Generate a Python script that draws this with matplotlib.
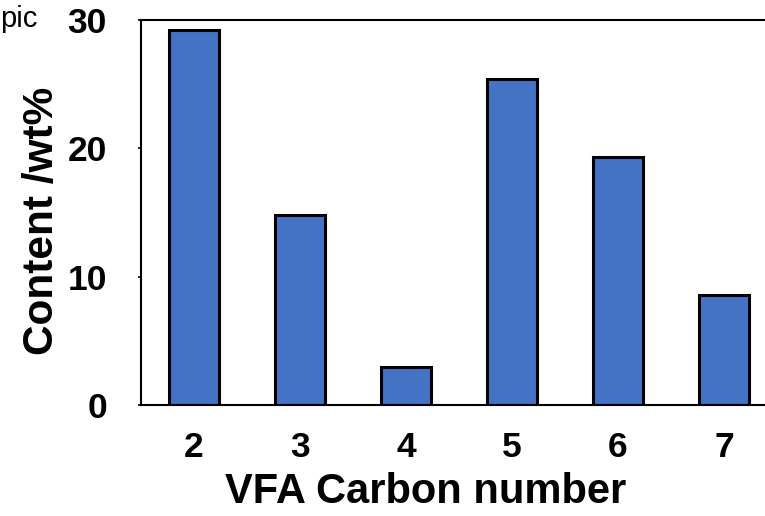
import matplotlib.pyplot as plt

carbon = ['2', '3', '4', '5', '6', '7']
positions = [2, 3, 4, 5, 6, 7]
content = [29.2, 14.8, 2.95, 25.4, 19.3, 8.55]

plt.rcParams['font.family'] = ['Liberation Sans', 'DejaVu Sans']

fig = plt.figure(figsize=(7.65, 5.16), dpi=100)
# axes runs past the right edge of the figure like the reference
ax = fig.add_axes([141 / 765, (516 - 405) / 516, 636 / 765, 385 / 516])

ax.bar(positions, content, width=0.48, color='#4472C4', edgecolor='black', linewidth=2.2)

ax.set_xlim(1.5, 7.5)
ax.set_ylim(0, 30)
ax.set_yticks([0, 10, 20, 30])
ax.set_xticks(positions)
ax.set_xticklabels(carbon)
ax.tick_params(axis='y', length=2.5, width=1.2, pad=22, labelsize=25.5)
ax.tick_params(axis='x', length=0, pad=19, labelsize=25.5)
for lab in ax.get_xticklabels() + ax.get_yticklabels():
    lab.set_fontweight('bold')
for s in ax.spines.values():
    s.set_linewidth(1.5)

ax.set_xlabel('VFA Carbon number', fontsize=30, fontweight='bold')
ax.xaxis.set_label_coords((426 - 141) / 636, -(472 - 405) / 385)
ax.set_ylabel('Content /wt%', fontsize=30.5, fontweight='bold')
ax.yaxis.set_label_coords((62 - 141) / 636, (405 - 221) / 385)

fig.text(37 / 765, 1 - 27 / 516, 'pic', ha='right', va='baseline', fontsize=21)

fig.savefig('out.png', dpi=100)
